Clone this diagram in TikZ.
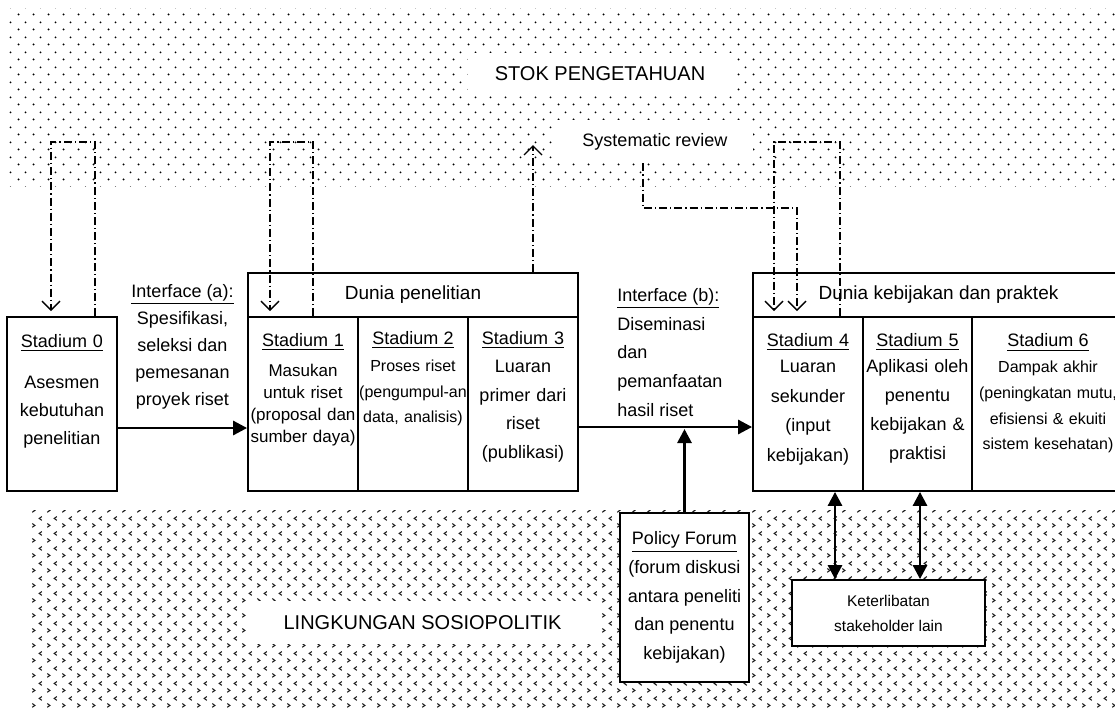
\documentclass[tikz,border=0pt]{standalone}
\usepackage{fontspec}
\setmainfont{Liberation Sans}
\usetikzlibrary{arrows.meta,patterns}

\pgfdeclarepatternformonly{stokdots}{\pgfqpoint{0pt}{0pt}}{\pgfqpoint{7.5pt}{7.5pt}}{\pgfqpoint{7.5pt}{7.5pt}}{
	\pgfpathcircle{\pgfqpoint{1.875pt}{1.875pt}}{0.55pt}
	\pgfpathcircle{\pgfqpoint{5.625pt}{5.625pt}}{0.55pt}
	\pgfusepath{fill}
}
\pgfdeclarepatternformonly{sosiomarks}{\pgfqpoint{0pt}{0pt}}{\pgfqpoint{7.5pt}{7.5pt}}{\pgfqpoint{7.5pt}{7.5pt}}{
	\pgfsetlinewidth{0.55pt}
	\pgfpathmoveto{\pgfqpoint{1.2pt}{2.9pt}}\pgfpathlineto{\pgfqpoint{2.6pt}{1.9pt}}\pgfpathlineto{\pgfqpoint{1.2pt}{0.9pt}}
	\pgfpathmoveto{\pgfqpoint{6.3pt}{6.6pt}}\pgfpathlineto{\pgfqpoint{4.9pt}{5.6pt}}\pgfpathlineto{\pgfqpoint{6.3pt}{4.6pt}}
	\pgfusepath{stroke}
}

\newcommand{\stadhead}[1]{{\fontsize{9}{13.5}\selectfont\underline{#1}}}

\tikzset{
	stadium/.style={draw, line width=0.9pt, minimum height=87pt, inner sep=0pt},
	header/.style={draw, line width=0.9pt, minimum height=22pt, inner sep=0pt, font=\fontsize{9.5}{12}\selectfont},
	stadtext/.style={align=center, inner sep=0pt},
	cutout/.style={fill=white, inner sep=0pt, font=\fontsize{10}{12}\selectfont},
	flow/.style={line width=1.4pt, -{Triangle[length=7pt,width=7pt]}},
	twoway/.style={line width=1.4pt, {Triangle[length=7pt,width=7pt]}-{Triangle[length=7pt,width=7pt]}},
	feedback/.style={line width=0.7pt, dash pattern=on 4pt off 1.5pt on 0.6pt off 1.5pt, -{Straight Barb[length=4.5pt,width=9pt]}}
}

\begin{document}
\begin{tikzpicture}[x=0.5pt, y=-0.5pt]%[show background grid]

	\useasboundingbox (0,0) rectangle (1115,708);
	\clip (0,0) rectangle (1115,708);

	\fill[pattern=stokdots, pattern color=black] (8,8) rectangle (1115,186);
	\fill[pattern=sosiomarks, pattern color=black!90] (28,510) rectangle (1115,708);

	\node[cutout, minimum width=132pt, minimum height=21pt] (stok) at (600,74) {STOK PENGETAHUAN};
	\node[cutout, minimum width=98pt, minimum height=21.5pt, font=\fontsize{9}{11}\selectfont] (sysrev) at (655,141.5) {Systematic review};
	\node[cutout, minimum width=175.5pt, minimum height=21.5pt] (sosio) at (422.5,622.5) {LINGKUNGAN SOSIOPOLITIK};

	\node[stadium, minimum width=55pt] (st0) at (62,404) {};
	\node[stadtext, text width=54pt, font=\fontsize{9}{14}\selectfont] (st0txt) at (62,391)
		{\stadhead{Stadium 0}\\[6.5pt]Asesmen\\kebutuhan\\penelitian};

	\node[header, minimum width=165pt] (riset) at (413,295) {Dunia penelitian};
	\node[stadium, minimum width=55pt] (st1) at (303,404) {};
	\node[stadium, minimum width=55pt] (st2) at (413,404) {};
	\node[stadium, minimum width=55pt] (st3) at (523,404) {};
	\node[stadtext, text width=55pt, font=\fontsize{8.5}{11}\selectfont] (st1txt) at (303,389.5)
		{\stadhead{Stadium 1}\\[4pt]Masukan\\untuk riset\\(proposal dan\\sumber daya)};
	\node[stadtext, text width=56pt, font=\fontsize{8}{12.75}\selectfont] (st2txt) at (413,379)
		{\stadhead{Stadium 2}\\[0.75pt]Proses riset\\(pengumpul-an\\data, analisis)};
	\node[stadtext, text width=54pt, font=\fontsize{9}{14.25}\selectfont] (st3txt) at (523,396.5)
		{\stadhead{Stadium 3}\\Luaran\\primer dari\\riset\\(publikasi)};

	\node[header, minimum width=185.5pt] (kebijakan) at (938.5,295) {Dunia kebijakan dan praktek};
	\node[stadium, minimum width=55pt] (st4) at (808,404) {};
	\node[stadium, minimum width=54.5pt] (st5) at (917.5,404) {};
	\node[stadium, minimum width=76pt] (st6) at (1048,404) {};
	\node[stadtext, text width=54pt, font=\fontsize{9}{14.75}\selectfont] (st4txt) at (808,399.5)
		{\stadhead{Stadium 4}\\[-1.75pt]Luaran\\sekunder\\(input\\kebijakan)};
	\node[stadtext, text width=54pt, font=\fontsize{9}{14.5}\selectfont] (st5txt) at (917.5,398.5)
		{\stadhead{Stadium 5}\\[-1.5pt]Aplikasi oleh\\penentu\\kebijakan \&\\praktisi};
	\node[stadtext, text width=74pt, font=\fontsize{8}{12.85}\selectfont] (st6txt) at (1048,393.5)
		{\stadhead{Stadium 6}\\Dampak akhir\\(peningkatan mutu,\\efisiensi \& ekuiti\\sistem kesehatan)};

	\node[stadtext, font=\fontsize{9}{13.5}\selectfont] (ifa) at (182.5,346.5)
		{\underline{Interface (a):}\\Spesifikasi,\\seleksi dan\\pemesanan\\proyek riset};
	\node[align=left, anchor=west, inner sep=0pt, font=\fontsize{9}{14.4}\selectfont] (ifb) at (617,352.5)
		{\underline{Interface (b):}\\Diseminasi\\dan\\pemanfaatan\\hasil riset};

	\node[stadium, align=center, fill=white, minimum width=64.5pt, minimum height=84.5pt, font=\fontsize{9}{14.4}\selectfont] (forum) at (684.5,597.5)
		{\underline{Policy Forum}\\(forum diskusi\\antara peneliti\\dan penentu\\kebijakan)};
	\node[stadium, align=center, fill=white, minimum width=96.5pt, minimum height=33pt, font=\fontsize{7.75}{12.5}\selectfont] (keter) at (888.5,613)
		{Keterlibatan\\stakeholder lain};

	\coordinate (forumtip) at (684.5,429);
	\coordinate (review3) at (533,145);

	\draw[flow] ([yshift=-12pt]st0.east) -- ([yshift=-12pt]st1.west);
	\draw[flow] ([yshift=-11.5pt]st3.east) -- ([yshift=-11.5pt]st4.west);
	\draw[flow] (forum.north) -- (forumtip);
	\draw[twoway] ([xshift=13.5pt]st4.south) -- ([xshift=-26.75pt]keter.north);
	\draw[twoway] ([xshift=1.25pt]st5.south) -- ([xshift=15.75pt]keter.north);

	\draw[feedback] ([xshift=16.5pt]st0.north) |- (51,142) -- ([xshift=-5.5pt,yshift=2.5pt]st0.north);
	\draw[feedback] ([xshift=5pt]st1.north) |- (270,142) -- ([xshift=-16.5pt,yshift=2.5pt]st1.north);
	\draw[feedback] ([xshift=60pt]riset.north) -- (review3);
	\draw[feedback] ([xshift=-6pt]sysrev.south) |- (797,208) -- ([xshift=-5.5pt,yshift=2.5pt]st4.north);
	\draw[feedback] ([xshift=16pt]st4.north) |- (774,142) -- ([xshift=-17pt,yshift=2.5pt]st4.north);

\end{tikzpicture}
\end{document}
